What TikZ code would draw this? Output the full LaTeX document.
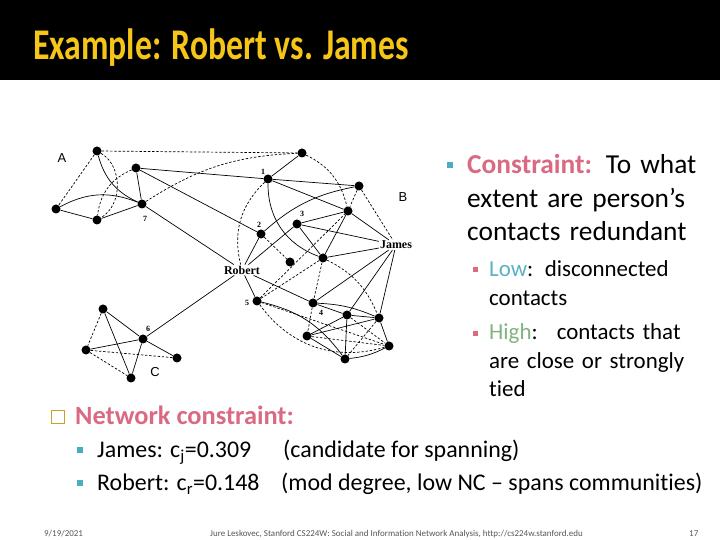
\documentclass[tikz,border=0pt]{standalone}
\usepackage{fontspec}
\setmainfont{Carlito}[Ligatures=NoCommon]
\newfontfamily\titlefont{Carlito}[FakeStretch=0.77]
\newfontfamily\figserif{Liberation Serif}
\newfontfamily\figsans{Liberation Sans}
\definecolor{titleyellow}{HTML}{F5C518}
\definecolor{rosered}{HTML}{DA6A82}
\definecolor{bulletteal}{HTML}{4BACC6}
\definecolor{lowteal}{HTML}{5AB0C6}
\definecolor{highgreen}{HTML}{7FB380}
\definecolor{boxgold}{HTML}{C9A227}
\definecolor{footgrey}{HTML}{555555}

\begin{document}
\begin{tikzpicture}[x=1bp, y=1bp,
    dot/.style={circle, fill, inner sep=0pt, minimum size=9bp},
    who/.style={font=\figserif\bfseries\fontsize{12}{14}\selectfont, inner sep=1pt},
    num/.style={font=\figserif\bfseries\fontsize{8}{9}\selectfont, inner sep=0pt},
    grp/.style={font=\figsans\fontsize{13}{15}\selectfont, inner sep=0pt},
    tie/.style={line width=0.7pt},
    weak/.style={line width=0.7pt, dash pattern=on 2.4bp off 1.8bp},
    sq/.style={rectangle, inner sep=0pt, minimum size=#1},
    body/.style={anchor=base west, inner sep=0pt, align=left}]
    \useasboundingbox (0,0) rectangle (720,540);
    \fill (0,460) rectangle (720,540);
    \node[anchor=base west, inner sep=0pt, text=titleyellow, font=\titlefont\bfseries\fontsize{44}{50}\selectfont] (title) at (33,480) {Example: Robert vs. James};

    % cluster A
    \node[dot] (a1) at (97,389) {};
    \node[dot] (a2) at (136,372) {};
    \node[dot] (n7) at (142,336) {};
    \node[dot] (a3) at (56,331) {};
    \node[dot] (a4) at (97,320) {};
    % cluster B
    \node[dot] (t) at (302,387) {};
    \node[dot] (n1) at (268,361) {};
    \node[dot] (b1) at (359,354) {};
    \node[dot] (b2) at (348,329) {};
    \node[dot] (n3) at (297,316) {};
    \node[dot] (n2) at (261,306) {};
    \node[dot] (s1) at (290,278) {};
    \node[dot] (s2) at (323,282) {};
    \node[dot] (n5) at (257,239) {};
    \node[dot] (n4) at (313,237) {};
    \node[dot] (c1) at (347,225) {};
    \node[dot] (c2) at (379,222) {};
    \node[dot] (c3) at (307,204) {};
    \node[dot] (c4) at (389,194) {};
    \node[dot] (c5) at (345,181) {};
    % cluster C
    \node[dot] (d1) at (103,231) {};
    \node[dot] (n6) at (143,201) {};
    \node[dot] (d2) at (86,190) {};
    \node[dot] (d3) at (177,182) {};
    \node[dot] (d4) at (131,162) {};

    \node[who] (rob) at (242,270) {Robert};
    \node[who] (jam) at (396,295) {James};

    \node[num] (l1) at (263,368) {1};
    \node[num] (l2) at (259,315) {2};
    \node[num] (l3) at (302,326) {3};
    \node[num] (l4) at (321,227) {4};
    \node[num] (l5) at (247,237) {5};
    \node[num] (l6) at (148,211) {6};
    \node[num] (l7) at (145,321) {7};
    \node[grp] (ga) at (62,382) {A};
    \node[grp] (gb) at (403,343) {B};
    \node[grp] (gc) at (155,168) {C};

    \path[tie] (a1) edge[bend right=25] (n7)
               (a2) edge (n7)
               (a3) edge[bend left=25] (n7)
               (a3) edge (a4)
               (a4) edge (n7)
               (a2) edge (n1)
               (a2) edge (n2)
               (n7) edge (rob)
               (t) edge (n1)
               (n1) edge (b1)
               (n1) edge (b2)
               (n1) edge[bend right=35] (s2)
               (b1) edge[bend right=15] (n2)
               (b2) edge (n3)
               (b2) edge (jam)
               (b2) edge (s2)
               (n3) edge (s2)
               (n3) edge (jam)
               (n3) edge (rob)
               (n2) edge (rob)
               (s2) edge (jam)
               (rob) edge (n4)
               (rob) edge (n5)
               (rob) edge (n6)
               (jam) edge (n4)
               (jam) edge (c1)
               (jam) edge (c2)
               (n4) edge (c1)
               (n4) edge[bend left=10] (c2)
               (n5) edge[bend left=20] (c5)
               (c1) edge (c2)
               (c1) edge (c3)
               (c1) edge (c5)
               (c2) edge (c3)
               (c2) edge (c4)
               (c3) edge (c5)
               (c5) edge[bend right=10] (c4)
               (d1) edge (n6)
               (d1) edge (d4)
               (d2) edge (n6)
               (n6) edge (d3)
               (n6) edge (d4);
    \path[weak] (a1) edge (a3)
                (a1) edge[bend left=60] (a4)
                (a2) edge[bend right=30] (a4)
                (a1) edge (t)
                (n7) edge[bend left=15] (t)
                (t) edge[bend left=25] (b2)
                (b1) edge (b2)
                (b1) edge (jam)
                (n1) edge[bend right=30] (rob)
                (n2) edge (s1)
                (n5) edge (b2)
                (n5) edge (s2)
                (s2) edge (n4)
                (s2) edge[bend left=20] (c2)
                (n4) edge (c3)
                (n5) edge (c4)
                (n5) edge[bend right=35] (c4)
                (c1) edge (c4)
                (c2) edge (c5)
                (c3) edge (c4)
                (d1) edge (d2)
                (d2) edge (d3)
                (d2) edge (d4);

    % right column
    \node[sq=6.5bp, fill=bulletteal] (bu1) at (450,375) {};
    \node[body, text width=260bp, font=\fontsize{27.5}{33.5}\selectfont] (cons) at (467,366)
        {\textcolor{rosered}{\bfseries Constraint:} To what\\extent are person’s\\contacts redundant};
    \node[sq=5bp, fill=rosered] (bu2) at (475,270) {};
    \node[body, text width=230bp, font=\fontsize{23}{28.5}\selectfont] (low) at (489,263)
        {\textcolor{lowteal}{Low}: disconnected\\contacts};
    \node[sq=5bp, fill=rosered] (bu3) at (475,206) {};
    \node[body, text width=230bp, font=\fontsize{23}{28.5}\selectfont] (high) at (489,200)
        {\textcolor{highgreen}{High}:~ contacts that\\are close or strongly\\tied};

    % network constraint
    \node[sq=13bp, draw=boxgold, line width=1.2pt] (box) at (58,123) {};
    \node[body, text=rosered, font=\bfseries\fontsize{26.5}{30}\selectfont] (netc) at (75,115) {Network constraint:};
    \node[sq=6bp, fill=bulletteal] (bu4) at (80,90) {};
    \node[body, font=\fontsize{24}{28}\selectfont] (jname) at (97,82) {James: c\textsubscript{j}=0.309};
    \node[body, font=\fontsize{24}{28}\selectfont] (jnote) at (283,82) {(candidate for spanning)};
    \node[sq=6bp, fill=bulletteal] (bu5) at (80,57) {};
    \node[body, font=\fontsize{24}{28}\selectfont] (rname) at (97,49) {Robert: c\textsubscript{r}=0.148};
    \node[body, font=\fontsize{24}{28}\selectfont] (rnote) at (281,49) {(mod degree, low NC – spans communities)};

    % footer
    \node[body, text=footgrey, font=\fontsize{9}{10}\selectfont] (date) at (44,3) {9/19/2021};
    \node[body, text=footgrey, font=\fontsize{9}{10}\selectfont] (credit) at (210,3) {Jure Leskovec, Stanford CS224W: Social and Information Network Analysis, http://cs224w.stanford.edu};
    \node[body, text=footgrey, font=\fontsize{9}{10}\selectfont] (page) at (689,3) {17};
\end{tikzpicture}
\end{document}
